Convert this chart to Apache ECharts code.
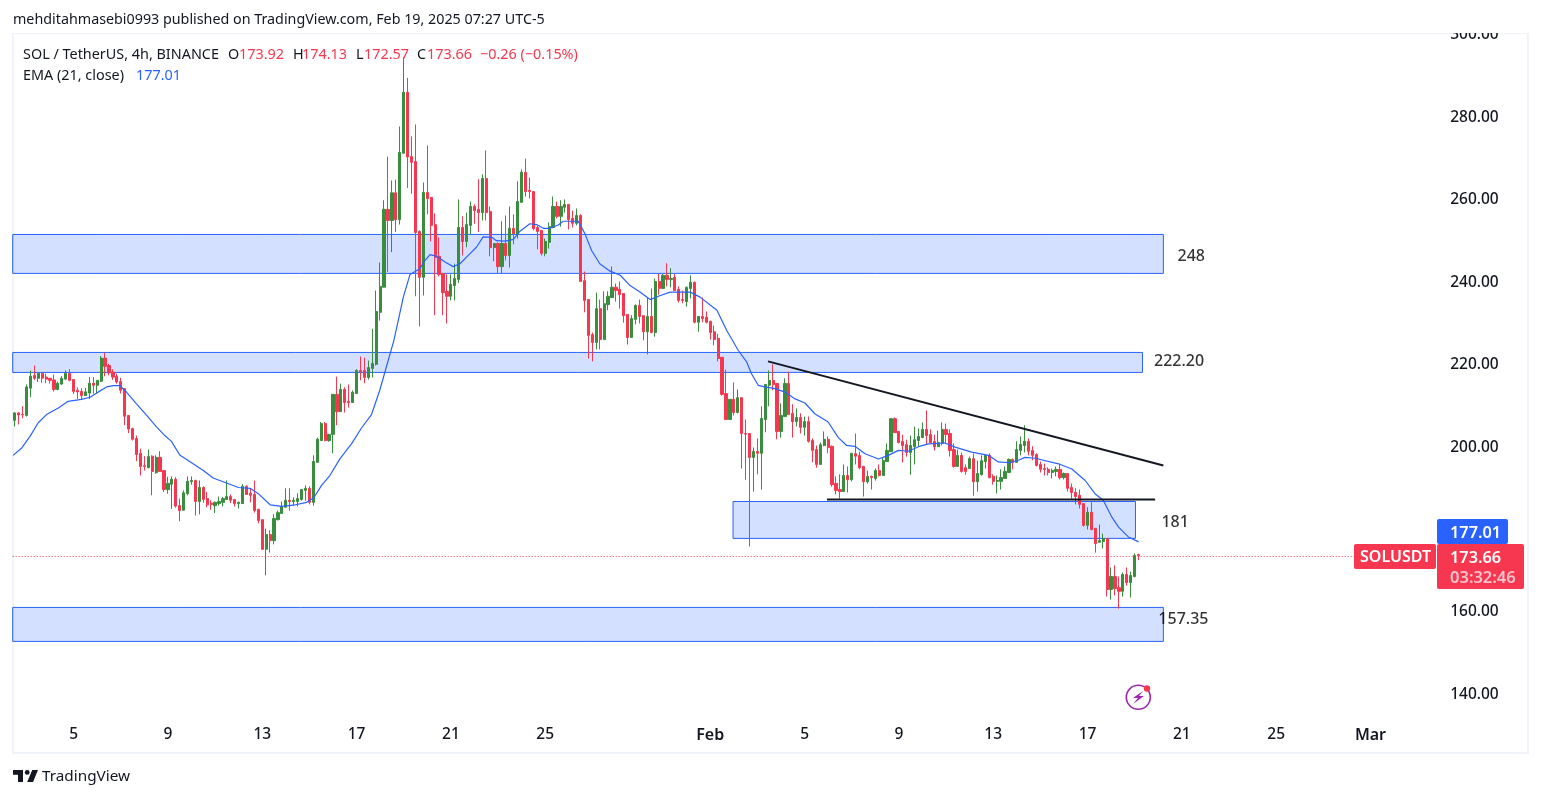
<!DOCTYPE html>
<html>
<head>
<meta charset="utf-8">
<title>SOLUSDT</title>
<style>
html,body{margin:0;padding:0;background:#fff}
#main{width:1541px;height:798px}
</style>
<script src="https://cdn.jsdelivr.net/npm/echarts@6/dist/echarts.min.js"></script>
</head>
<body>
<div id="main"></div>
<script>
// 4h candles
var opens = [
206.5,208.3,207.9,207.7,214.3,217.4,216.7,217.9,217.0,216.7,
216.3,214.0,215.3,216.5,217.9,216.4,213.8,213.5,212.5,213.1,
215.5,215,216,221.6,219.8,218.2,217.2,215.9,214.2,207.7,
204.5,202.1,198.5,195.5,195,197.8,193.8,197.5,194.3,189.7,
191,192.2,185.8,184.7,188.7,191.6,191.9,186.8,190.2,187.5,
186.4,185.8,186.3,186.6,187.3,188,187.3,186.3,186.3,190.5,
188.8,188.5,184.9,182.4,175.2,178.8,177.3,182.4,183.9,185.4,
187.1,186.8,186.8,187.3,189.5,190,186.6,196.3,201.6,205.7,
201.6,203.1,212.8,208.6,214,211.1,210.8,213,218.6,218.6,
216.9,219.1,220.1,232.7,238.8,257.7,255,261.7,255.2,271.3,
286.1,270.5,269.3,252.3,241.2,261.8,260.6,254,246.3,242.1,
237.8,236.6,239.2,240.7,253.3,249.9,253.8,258.4,257.7,256.9,
265.2,257.2,248.4,249.4,243.8,249.4,246.5,253.1,251.6,259.4,
266.7,262.3,262,253.3,252.6,247,249.7,253.3,258.4,256,
258.2,258.9,255.5,254.3,256.2,240.4,235.8,227.3,225.4,233.6,
226.1,234.6,236.3,238.8,238.3,237.3,232.2,226.6,231,234.4,
231.9,228,231.7,227.8,240.2,238.5,241.7,240.7,241.2,238.3,
235.8,235.3,238.5,240,230.3,231.7,231.5,230.5,228,226.4,
221.8,213,206.7,211.6,208.4,212,203.3,203.3,197.5,198.95,
198.5,206.7,215,216.2,215.45,203.8,207.4,215.45,208.2,206.2,
207.2,204.8,206.2,201.6,199.4,195.8,200.4,201.9,200.2,191.2,
189.7,189.2,193.1,192.1,198.4,197.95,195.3,191.6,192.9,192.4,
194.3,193.1,196.5,198.9,206.9,203.8,201.35,200.6,198.7,200.1,
201.6,202.3,204.3,203.05,201.35,200.1,200.9,204.3,203.3,199.4,
195.3,198,195,194.8,197.2,191.6,193.3,196.5,198,192.9,
191.7,191.7,192.4,193.85,197,196.3,199.2,200.4,201.4,199.2,
198.2,195.8,194.8,194.6,193.85,194.1,194.6,192.6,193.6,190.2,
189,188.3,186.3,181,184.2,180.3,176.9,177.1,177.8,165.45,
168.6,165.9,165,169.1,167.15,168.6,173.92
];
var closes = [
208.3,207.8,207.8,214.6,217.2,216.7,217.9,216.7,216.5,216.2,
214.0,215.5,216.7,217.9,216.2,213.5,213.4,212.5,213.4,215.5,
215,216.2,221.6,219.6,218,217,215.8,213.8,207.5,204.4,
201.9,198.2,195.3,195.3,197.7,194.1,197.5,194.1,189.7,191.2,
192.2,185.7,184.6,188.9,191.7,191.9,186.8,190.2,187.3,186,
186.1,186.6,186.8,187.5,188,187.1,186.3,186.6,190.5,188.5,
188.3,184.6,182.2,175.2,178.8,177.3,182.7,184.1,185.6,187.1,
186.8,187.1,187.5,189.7,190,186.6,196.5,201.9,205.7,201.6,
203.1,212.8,208.6,214,210.8,210.8,213.3,218.6,218.2,216.9,
219.3,220.3,232.9,239,257.7,255,261.7,255.2,271.5,286.1,
270.4,269.1,252.1,241.2,261.8,260.3,253.8,246,241.9,237.5,
236.6,239.5,240.9,253.3,249.9,254,258.4,257.4,256.9,265.2,
256.9,248.4,249.4,243.8,249.4,246.5,253.1,251.8,259.6,266.7,
262,262,253,252.3,247,249.9,253.5,258.4,256,258.4,
258.9,255.2,254.3,256.2,240.2,235.6,227.1,225.4,233.6,226.1,
234.8,236.6,238.8,238,237,231.9,226.6,231.2,234.4,231.7,
228,231.7,227.8,240.2,238.5,241.7,240.7,240.9,238,235.6,
235.6,238.75,240,230.3,231.7,231.2,230.3,227.8,226.1,221.5,
212.8,206.7,211.6,208.4,212,203.3,203.15,197.5,198.95,198.5,
206.96,215.2,216.2,215.2,203.8,207.7,215.45,207.9,206.2,207.2,
204.8,206.2,201.4,199.2,195.8,200.6,201.9,199.9,190.9,189.5,
189.2,193.1,192.1,198.5,197.8,195,191.6,192.9,192.6,194.3,
193.1,196.7,199.2,206.9,203.5,201.1,200.4,198.7,200.4,201.8,
202.6,204.3,202.8,201.1,200.1,201.1,204.3,203.05,199.2,195.3,
198,194.1,194.1,197.2,191.6,193.6,196.7,198,192.6,191.7,
191.9,192.6,194.1,197,196.3,199.4,200.65,201.4,199,198,
195.55,194.6,194.6,193.85,194.3,194.6,192.6,193.6,190,189,
188,186.1,181,184.2,180,176.6,177.3,177.8,165.45,168.6,
165.7,165,169.1,167.15,168.85,173.7,173.66
];
var lows = [
205,205.5,207,207.4,212.1,216.3,215.8,215.6,215.5,215.4,
213.5,213.8,215.1,216.3,216,212.9,211.7,211.5,212.5,211.7,
213,213,215.8,217.2,217.4,216.3,215.4,213,205.3,203.4,
201.6,196.6,193.1,194.3,194.9,188.3,193.5,194,189.1,188.7,
185,185.3,182,184.6,188.3,190.9,183.4,183.7,186.5,185.4,
184.8,184,185.8,185.6,187.3,186.4,185.6,185.1,186.2,188.4,
186.6,184.1,181.5,175.2,168.9,174.4,176.4,182.2,183.9,185.4,
184.6,185.8,185.6,187,187,186.1,185.8,196.3,201.6,201.4,
201.3,198.5,205.3,208.6,208.4,209.6,210.8,213,216.2,215.5,
216.4,216.9,219.8,230.7,238.8,242.5,247.3,252.2,254,271.3,
262.9,261.5,236.6,229.3,236.8,256.5,249.9,232,241.4,232,
230,235.6,235.6,239.8,246.5,248.5,251.6,254.2,252.2,255,
255,246.3,245.1,242.1,242.1,245.3,243.6,249.2,250.6,259.4,
260.8,260.3,252.6,248,246.5,246.3,248.2,253.1,255.5,253.5,
256.9,252.8,253.3,253.8,240.2,232.7,221.5,220.8,223.7,223.7,
226.1,233.2,236.3,235.3,233.6,230.2,224.9,226.6,229.8,230,
225.9,222.5,227.6,226.8,237,238.5,239,238.75,238,235.1,
234.9,234.1,236.1,230,228,230.3,230,226.1,224.7,220.8,
212.5,206.7,206.7,207.7,208.2,194.8,192.1,175.9,189.2,193.4,
189.7,203.6,209.9,213.8,201.9,202.3,207.4,207.9,202.3,205,
203.3,202.8,201.1,196.3,195,195.8,200.2,198.5,190.4,188.5,
187.5,189.2,189,191.7,195.8,194.6,188,191.15,189.7,191.9,
192.9,193.1,196.5,198.9,203.5,200.9,196.25,197.7,193.3,195.8,
200.1,202.3,200.6,200.9,199.2,200.1,200.4,200.9,197.7,195,
195.3,193.8,193.3,194.8,188.2,189.2,193.1,194.8,192.4,190.9,
188.75,189.7,192.4,193.85,194.6,196.3,198,198.7,198,196.8,
195.3,193.85,193.1,193.1,192.4,192.9,192.15,192.15,189.2,187.5,
186.1,185.1,180.7,180,179.8,174.4,176.9,175.4,163.75,163,
164,160.8,163.75,166.4,163.5,168.4,172.57
];
var highs = [
208.5,208.5,209.9,215.2,218.6,219.8,217.9,218,217.8,216.8,
217.6,215.9,217.2,218.6,218.9,216.4,214.5,214.3,214.4,217,
217,216.2,222.1,222.9,220.2,218.9,217.8,216.8,214.2,207.7,
204.7,202.8,199.6,197.8,199.4,198,198,199,194.3,192.8,
192.9,192.7,187.5,189.5,192.9,192.9,192.1,191.9,190.5,189.1,
187.1,186.8,188,187.9,191.9,188.5,187.3,186.8,191,190.7,
189.9,191.9,185,182.4,180.2,179.8,183.7,184.6,186.8,190,
190,187.8,188.8,189.7,190.7,190.5,198,202.3,206.1,206.1,
203.2,212.8,217.1,215.4,214.5,215.2,213.75,218.9,222,221.7,
221,228.7,238,244.8,259.9,270.5,264.7,264.9,277.8,294.6,
289.6,275.4,278.3,252.6,264.2,273.2,260.6,256.7,250.9,242.1,
241.9,241.9,244.5,260.1,256,256.9,259.6,258.9,265,266.2,
272,258.4,249.4,249.7,254.8,256.2,258.4,256.5,264.5,267.4,
270,265.4,262,253.8,252.6,250.6,254.5,260.8,259.6,259.9,
260.1,258.9,257.4,257.9,256.5,242.6,235.8,227.8,237.5,235.8,
237.8,237.8,243.8,239.7,240.2,237.3,232.2,232,234.6,235.8,
231.9,236.3,238.5,240.9,242,242,244.6,243.4,242,239,
238,239,241.7,240.2,231.7,236.3,232.9,230.7,229.5,227.5,
221.8,218.8,211.6,215.7,214,212,206.7,203.3,199.9,202.1,
209.9,215.2,218.6,220.1,215.45,210.6,216.7,218.3,210.4,209.4,
208.2,207.4,207.4,202.1,200.4,201.1,203.8,202.6,200.4,192.9,
193.4,195.8,195.3,198.5,203.3,198.9,195.5,194.3,193.1,194.8,
195.8,197.5,200.9,206.9,207.2,203.8,203,201.8,202.8,205,
204.5,206,208.9,204.3,203,204,206,205.7,204.3,200.9,
199.4,198.7,195.8,197.7,198.4,196.7,198,198,198.5,193.4,
193.1,194.6,195.3,197.25,197.25,201.4,202.6,205.3,202.1,200.2,
198.5,196.5,196,195.1,194.8,195.3,196,193.85,193.6,191.2,
190,189.7,186.3,185.4,186.8,180.3,181.2,179,177.8,170.8,
171.3,168.6,169.6,170.8,169.8,174.2,174.13
];

// EMA(21) as read: candle position, price
var emaPos = [-0.4,1.8,3.9,6,8.1,11.1,13.6,17,19.2,21.3,23.4,25.1,26.8,28.5,31,33.6,36.1,38.2,39.9,42,
45.4,48,50.5,53.9,56.9,59.9,62,65,67.9,70.9,74.3,76.1,78.1,80.2,82.8,85.7,88.3,90.8,92.9,
96.5,97.6,98.9,100.6,103.1,104.4,105.7,107.4,109.5,111.6,113.3,115.8,117.5,119.2,
121.4,122.6,124.8,126.9,128.6,131.1,132.8,134.5,136.2,138.3,139.6,143.4,145.1,146.8,148.9,
151.5,154.1,156.6,159.2,161.7,164.3,166.8,171.9,174.4,178.7,181.2,184.1,186.3,187.5,189.2,190.9,
193.5,196,198.6,201.1,203.6,207,209.6,211.7,213.8,216.4,219.8,222.3,224.9,227.4,230,232.5,236.7,
239.3,243.5,247.8,250.3,253.3,255.4,257.1,259.7,265.6,269,272.4,274.9,277,279.2,280.9,283.4,286];
var emaVal = [198,199.8,202.6,205.9,207.9,209.5,211.1,211.6,212.1,213.4,214.6,214.9,214.9,213.3,210.5,207.7,204.9,202.8,201.4,198.1,
195.95,194.3,192.5,191.3,190.2,190,188.7,186,185.6,185.9,186.6,187.7,190.7,193.1,197.2,200.8,204.7,207.9,213.8,
225.9,230.7,236.4,241.9,243.3,245.3,246.7,246.3,244.9,243.8,244.5,246.9,248.5,251,
250.9,250.1,250,250.4,252.4,254.2,254,253.1,253.1,253.9,254.8,254.8,251.8,247.7,244.5,
242.7,241.7,239.2,237.6,235.8,236.8,237.6,237.6,236.4,233.2,228.3,223.5,220.6,217.8,215,214.6,
214.2,213.35,211.7,210.7,208.1,206.1,202.3,200.4,200.2,198.4,197.1,198,199.2,199,200.1,200.8,201,
200,198.8,198,196.4,196.2,196.8,197.5,197.3,195.95,194.7,191.9,188.7,187.1,183,180.6,178.2,177];

var tickPos = [15,39,63,87,111,135,177,201,225,249,273,297,321,345];
var tickLabels = ['5','9','13','17','21','25','Feb','5','9','13','17','21','25','Mar'];
var priceTicks = [140,160,200,220,240,260,280,300];

// support/resistance boxes: start, end, top, bottom
var zoneFrom = [-0.5,-0.5,182.8,-0.5];
var zoneTo = [292.3,287,285.2,292.3];
var zoneTop = [251.6,222.97,186.8,161.1];
var zoneBottom = [242.15,218.12,177.85,152.85];
var zoneNames = ['248','222.20','181','157.35'];
var zoneNamePos = [299.4,296.3,295.3,297.4];
var zoneNamePrice = [246.3,220.8,181.7,158.2];

// trend lines
var fallPos = [191.7,292.3], fallVal = [220.8,195.55];
var flatPos = [206.7,290.2], flatVal = [187.3,187.3];

var lastPriceLevel = 173.46; // where the dotted line sits in the picture
var slots = 385;

var categories = [];
for (var i = 0; i < slots; i++) {
    var k = tickPos.indexOf(i);
    categories.push(k >= 0 ? tickLabels[k] : '');
}
var candles = opens.map(function (o, i) { return [o, closes[i], lows[i], highs[i]]; });
var zip = function (a, b) { return a.map(function (v, i) { return [v, b[i]]; }); };

var font = '"Noto Sans", sans-serif';
var ink = '#131722', red = '#f7374f', green = '#388e3c', blue = '#2962ff';

function txt(x, y, s, fill, size, weight, align) {
    return { type: 'text', z: 102, x: x, y: y, style: { text: s, fill: fill, font: (weight || 400) + ' ' + (size || 14) + 'px ' + font, textVerticalAlign: 'middle', textAlign: align || 'left' } };
}
function tag(x, y, w, h, fill) {
    return { type: 'rect', z: 101, shape: { x: x, y: y, width: w, height: h, r: 2 }, style: { fill: fill } };
}

var chart = echarts.init(document.getElementById('main'));
chart.setOption({
    animation: false,
    backgroundColor: '#fff',
    grid: { left: 12.7, top: 35, width: 1513, height: 686, containLabel: false },
    xAxis: [{
        type: 'category',
        data: categories,
        axisLine: { show: false },
        axisTick: { show: false },
        splitLine: { show: false },
        axisLabel: {
            interval: 0, margin: 6, color: ink, fontFamily: font, fontSize: 15.5, fontWeight: 500,
            formatter: function (v) { return v === 'Feb' || v === 'Mar' ? '{b|' + v + '}' : v; },
            rich: { b: { fontWeight: 600, fontSize: 16, color: ink, fontFamily: font } }
        }
    }, {
        type: 'value', min: -0.5, max: slots - 0.5, show: false, splitLine: { show: false }
    }],
    yAxis: {
        type: 'value', position: 'right', min: 133.54, max: 300,
        axisLine: { show: false },
        axisTick: { show: false },
        splitLine: { show: false },
        axisLabel: {
            customValues: priceTicks, inside: true, margin: 27, color: ink, fontFamily: font, fontSize: 15.5, fontWeight: 500,
            formatter: function (v) { return v.toFixed(2); }
        }
    },
    series: [{
        type: 'line', xAxisIndex: 1, data: [], z: 1, silent: true,
        markArea: {
            silent: true,
            itemStyle: { color: 'rgba(41,98,255,0.2)', borderColor: blue, borderWidth: 1 },
            data: zoneFrom.map(function (f, i) {
                return [{ xAxis: f, yAxis: zoneTop[i] }, { xAxis: zoneTo[i], yAxis: zoneBottom[i] }];
            })
        }
    }, {
        type: 'line', xAxisIndex: 1, data: [[-0.5, lastPriceLevel], [341, lastPriceLevel]], z: 2, symbol: 'none', silent: true,
        lineStyle: { color: red, width: 1, type: [1, 2] }
    }, {
        type: 'candlestick', data: candles, z: 3, barWidth: 2.7, silent: true,
        itemStyle: { color: green, color0: red, borderColor: green, borderColor0: red, borderWidth: 1 }
    }, {
        name: 'EMA', type: 'line', xAxisIndex: 1, data: zip(emaPos, emaVal), z: 4, symbol: 'none', silent: true,
        lineStyle: { color: blue, width: 1.2 }
    }, {
        type: 'line', xAxisIndex: 1, data: zip(fallPos, fallVal), z: 5, symbol: 'none', silent: true,
        lineStyle: { color: ink, width: 2 }
    }, {
        type: 'line', xAxisIndex: 1, data: zip(flatPos, flatVal), z: 5, symbol: 'none', silent: true,
        lineStyle: { color: ink, width: 2 }
    }, {
        type: 'scatter', xAxisIndex: 1, z: 6, symbolSize: 0, silent: true,
        data: zoneNames.map(function (n, i) { return { name: n, value: [zoneNamePos[i], zoneNamePrice[i]] }; }),
        label: { show: true, position: 'inside', formatter: '{b}', color: '#000', fontFamily: font, fontSize: 16, fontWeight: 500 }
    }],
    graphic: [
        { type: 'rect', z: 0, shape: { x: 13, y: 33, width: 1515, height: 720 }, style: { fill: 'none', stroke: '#f0f3fa', lineWidth: 2 } },
        // covers the top half of the 300 label, like the pane edge does
        { type: 'rect', z: 100, shape: { x: 0, y: 0, width: 1541, height: 33 }, style: { fill: '#fff' } },
        txt(13, 20, 'mehditahmasebi0993 published on TradingView.com, Feb 19, 2025 07:27 UTC-5', ink, 14.3),
        txt(23, 55, 'SOL / TetherUS, 4h, BINANCE', ink, 14.4),
        txt(228, 55, 'O', ink, 14.4), txt(239, 55, '173.92', red, 14.4),
        txt(293, 55, 'H', ink, 14.4), txt(302, 55, '174.13', red, 14.4),
        txt(356, 55, 'L', ink, 14.4), txt(364, 55, '172.57', red, 14.4),
        txt(417, 55, 'C', ink, 14.4), txt(427, 55, '173.66', red, 14.4),
        txt(480, 55, '\u22120.26 (\u22120.15%)', red, 14.4),
        txt(23, 76, 'EMA (21, close)', ink, 14.4), txt(136, 76, '177.01', blue, 14.4),
        tag(1437, 519, 71, 25, blue),
        tag(1437, 544, 87, 45, red),
        tag(1354, 544, 82, 25, red),
        txt(1450, 533, '177.01', '#fff', 16.3, 600),
        txt(1450, 558, '173.66', '#fff', 16.3, 600),
        txt(1450, 578, '03:32:46', 'rgba(255,255,255,0.7)', 16.5, 600),
        txt(1360, 557, 'SOLUSDT', '#fff', 16, 600),
        // lightning badge
        { type: 'circle', z: 101, shape: { cx: 1138.3, cy: 697.3, r: 12 }, style: { fill: 'none', stroke: '#9c27b0', lineWidth: 1.6 } },
        { type: 'polygon', z: 101, shape: { points: [[1143, 691], [1133, 698], [1138, 698], [1133, 704], [1144, 696], [1139, 696]] }, style: { fill: '#9c27b0' } },
        { type: 'circle', z: 102, shape: { cx: 1147, cy: 688.5, r: 3.2 }, style: { fill: red } },
        // logo
        { type: 'polygon', z: 101, shape: { points: [[13, 770], [23, 770], [23, 782], [18, 782], [18, 774.8], [13, 774.8]] }, style: { fill: ink } },
        { type: 'polygon', z: 101, shape: { points: [[33, 782], [27.2, 782], [32.2, 770], [38, 770]] }, style: { fill: ink } },
        { type: 'circle', z: 101, shape: { cx: 27.2, cy: 772.4, r: 2.4 }, style: { fill: ink } },
        txt(42, 777, 'TradingView', ink, 15.3)
    ]
});
</script>
</body>
</html>
